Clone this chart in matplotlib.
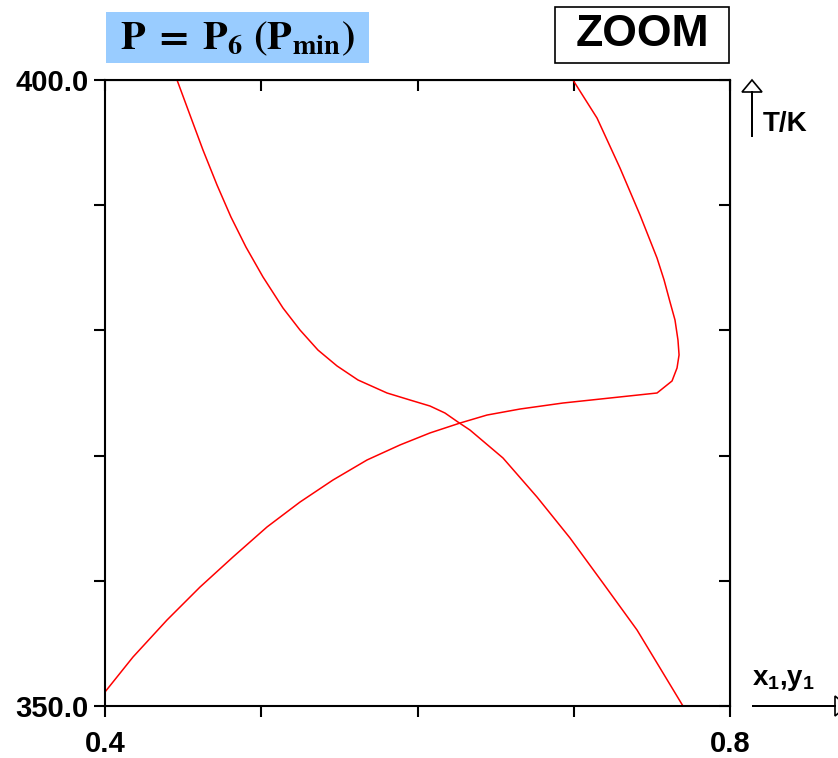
import numpy as np
import matplotlib.pyplot as plt
from matplotlib.patches import Rectangle, FancyArrow

plt.rcParams['font.family'] = 'Liberation Sans'
plt.rcParams['mathtext.fontset'] = 'custom'
plt.rcParams['mathtext.bf'] = 'Liberation Sans:bold'
plt.rcParams['mathtext.rm'] = 'Liberation Sans'

# curve 1 (branch going down to the right)
x_c1 = [0.4461, 0.4544, 0.4627, 0.4717, 0.4806, 0.4902, 0.5011, 0.5139, 0.5248,
        0.5363, 0.5485, 0.5619, 0.5805, 0.5952, 0.6080, 0.6176, 0.6259, 0.6336,
        0.6547, 0.6765, 0.6976, 0.7187, 0.7405, 0.7533, 0.7699]
T_c1 = [400.0, 397.20, 394.41, 391.61, 389.06, 386.66, 384.27, 381.79, 380.03,
        378.43, 377.16, 376.04, 375.00, 374.44, 373.96, 373.40, 372.68, 372.04,
        369.81, 366.69, 363.42, 359.82, 356.07, 353.43, 350.0]

# curve 2 (rising branch with the hook at the right)
x_c2 = [0.4000, 0.4179, 0.4397, 0.4608, 0.4819, 0.5037, 0.5248, 0.5459, 0.5677,
        0.5888, 0.6080, 0.6272, 0.6445, 0.6656, 0.6931, 0.7232, 0.7533, 0.7629,
        0.7661, 0.7674, 0.7667, 0.7648, 0.7616, 0.7578, 0.7533, 0.7424, 0.7296,
        0.7149, 0.6995]
T_c2 = [351.12, 353.91, 356.87, 359.50, 361.90, 364.30, 366.29, 368.05, 369.65,
        370.85, 371.81, 372.60, 373.24, 373.72, 374.20, 374.60, 375.00, 375.96,
        377.00, 378.04, 379.23, 380.83, 382.27, 384.03, 385.78, 389.22, 392.97,
        396.96, 400.0]

x_ticks = [0.4, 0.5, 0.6, 0.7, 0.8]
x_labels = ['0.4', '', '', '', '0.8']
y_ticks = [350, 360, 370, 380, 390, 400]
y_labels = ['350.0', '', '', '', '', '400.0']

fig = plt.figure(figsize=(8.38, 7.58), dpi=100)
W, H = 838.0, 758.0
ax = fig.add_axes([105 / W, (H - 706) / H, 625 / W, 626 / H])

ax.plot(x_c1, T_c1, color='red', lw=1.1)
ax.plot(x_c2, T_c2, color='red', lw=1.1)

ax.set_xlim(0.4, 0.8)
ax.set_ylim(350, 400)
ax.set_xticks(x_ticks)
ax.set_xticklabels(x_labels)
ax.set_yticks(y_ticks)
ax.set_yticklabels(y_labels)
for s in ax.spines.values():
    s.set_linewidth(1.5)
ax.tick_params(direction='out', length=8, width=1.5, labelsize=21)
ax.tick_params(axis='x', pad=9)
ax.tick_params(axis='y', pad=4)
for lab in ax.get_xticklabels() + ax.get_yticklabels():
    lab.set_fontweight('bold')

# inward ticks on top and right
top = ax.secondary_xaxis('top')
top.set_xticks(x_ticks)
top.tick_params(direction='in', length=8, width=1.5, labeltop=False)
right = ax.secondary_yaxis('right')
right.set_yticks(y_ticks)
right.tick_params(direction='in', length=8, width=1.5, labelright=False)

# title box
fig.patches.append(Rectangle((106 / W, (H - 63) / H), 263 / W, 51 / H,
                             transform=fig.transFigure, facecolor='#99ccff',
                             edgecolor='none'))
fig.text(237 / W, (H - 39) / H, r'$\mathbf{P\;=\;P_6\ (P_{min})}$',
         math_fontfamily='stix', fontsize=29, ha='center', va='center')

# ZOOM box
fig.patches.append(Rectangle((555 / W, (H - 63) / H), 174 / W, 56 / H,
                             transform=fig.transFigure, facecolor='white',
                             edgecolor='black', lw=1.2))
fig.text(642 / W, (H - 35) / H, 'ZOOM', fontsize=32, fontweight='bold',
         ha='center', va='center')

# axis arrows
fig.add_artist(FancyArrow(752 / W, (H - 137) / H, 0, 57 / H, width=0.0,
                          head_width=20 / W, head_length=12 / H,
                          length_includes_head=True, facecolor='white',
                          edgecolor='black', lw=1.2, transform=fig.transFigure))
fig.add_artist(FancyArrow(752 / W, (H - 706) / H, 95 / W, 0, width=0.0,
                          head_width=20 / H, head_length=12 / W,
                          length_includes_head=True, facecolor='white',
                          edgecolor='black', lw=1.2, transform=fig.transFigure))
fig.text(763 / W, (H - 124) / H, 'T/K', fontsize=20, fontweight='bold',
         ha='left', va='center')
fig.text(752 / W, (H - 680) / H, r'$\mathbf{x_1{,}y_1}$', fontsize=20,
         ha='left', va='center')

fig.savefig('out.png', dpi=100)
